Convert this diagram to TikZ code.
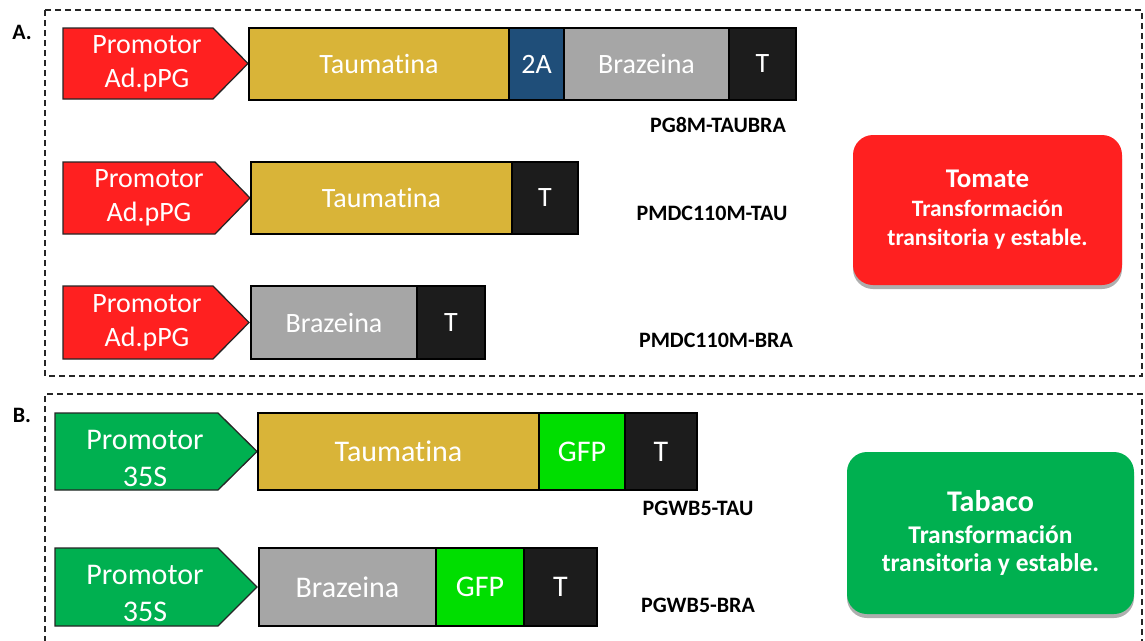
\documentclass[tikz,border=0pt]{standalone}
\usepackage{fontspec}
\setmainfont{Carlito}[Ligatures=NoCommon]
\usetikzlibrary{shadows}

\definecolor{promored}{RGB}{255,32,32}
\definecolor{promogreen}{RGB}{0,176,80}
\definecolor{taugold}{RGB}{217,180,56}
\definecolor{twoablue}{RGB}{31,78,121}
\definecolor{brazgray}{RGB}{166,166,166}
\definecolor{termblack}{RGB}{28,28,28}
\definecolor{gfpgreen}{RGB}{0,222,0}

% promoter arrow: fill, left x, top y, shoulder x, tip x, bottom y
\newcommand\promoshape[6]{%
  \draw[promo,fill=#1] (#2,#3) -- (#4,#3) -- (#5,{(#3+#6)/2}) -- (#4,#6) -- (#2,#6) -- cycle;}

\begin{document}
\begin{tikzpicture}[x=1pt,y=-1pt,
  frame/.style={draw=black!85, line width=1.2pt, dash pattern=on 6pt off 4pt},
  promo/.style={draw=black!85, line width=1.3pt, line join=miter},
  seg/.style={draw=black, line width=1.6pt, inner sep=0pt, text=white},
  fontA/.style={font=\fontsize{28}{34}\selectfont},
  fontB/.style={font=\fontsize{30}{37}\selectfont},
  promotext/.style={align=center, text=white, inner sep=0pt},
  plasmid/.style={font=\fontsize{22}{26}\selectfont\bfseries, inner sep=0pt},
  panel/.style={font=\fontsize{22}{24}\selectfont\bfseries, inner sep=0pt},
  hostbox/.style={rounded corners=20pt, text=white, align=center, inner sep=0pt,
    drop shadow={shadow xshift=0pt, shadow yshift=-4pt, opacity=0.45, fill=black!70}},
]
\useasboundingbox (0,0) rectangle (1145,640);
\fill[white] (0,0) rectangle (1145,640);

% panel frames
\draw[frame] (45,10) rectangle (1142,376);
\draw[frame] (45,642) -- (45,394) -- (1142,394) -- (1142,642);
\node[panel] (panA) at (22,32) {A.};
\node[panel] (panB) at (22,415) {B.};

% ---------- A: tomato constructs ----------
% PG8M-TAUBRA
\promoshape{promored}{63}{28}{213}{248}{99}
\node[promotext, fontA] (proA1) at (147,64) {Promotor\\Ad.pPG};
\node[seg, fontA, fill=taugold, minimum width=260pt, minimum height=72pt] (tauA1) at (379,64) {Taumatina};
\node[seg, fontA, fill=twoablue, minimum width=55pt, minimum height=72pt] (twoA1) at (536.5,64) {2A};
\node[seg, fontA, fill=brazgray, minimum width=165pt, minimum height=72pt] (braA1) at (646.5,64) {Brazeina};
\node[seg, fontA, fill=termblack, minimum width=67pt, minimum height=72pt] (terA1) at (762.5,64) {T};
\node[plasmid] (labA1) at (718,125) {PG8M-TAUBRA};

% PMDC110M-TAU
\promoshape{promored}{63}{162}{215}{250}{234}
\node[promotext, fontA] (proA2) at (149,198) {Promotor\\Ad.pPG};
\node[seg, fontA, fill=taugold, minimum width=261pt, minimum height=72pt] (tauA2) at (381.5,198) {Taumatina};
\node[seg, fontA, fill=termblack, minimum width=66pt, minimum height=72pt] (terA2) at (545,198) {T};
\node[plasmid] (labA2) at (712,213) {PMDC110M-TAU};

% PMDC110M-BRA
\promoshape{promored}{63}{286}{213}{249}{359}
\node[promotext, fontA] (proA3) at (147,322.5) {Promotor\\Ad.pPG};
\node[seg, fontA, fill=brazgray, minimum width=166pt, minimum height=73pt] (braA3) at (334,322.5) {Brazeina};
\node[seg, fontA, fill=termblack, minimum width=68pt, minimum height=73pt] (terA3) at (451,322.5) {T};
\node[plasmid] (labA3) at (716,340) {PMDC110M-BRA};

% host
\node[hostbox, fill=promored, minimum width=269pt, minimum height=150pt,
  font=\fontsize{23.5}{29}\selectfont\bfseries] (tomate) at (987.5,210)
  {{\fontsize{27}{29}\selectfont Tomate}\\Transformación\\transitoria y estable.};

% ---------- B: tobacco constructs ----------
% PGWB5-TAU
\promoshape{promogreen}{55}{413}{218}{257}{490}
\node[promotext, fontB] (proB1) at (145,458) {Promotor\\35S};
\node[seg, fontB, fill=taugold, minimum width=281pt, minimum height=77pt] (tauB1) at (398.5,451.5) {Taumatina};
\node[seg, fontB, fill=gfpgreen, minimum width=86pt, minimum height=77pt] (gfpB1) at (582,451.5) {GFP};
\node[seg, fontB, fill=termblack, minimum width=72pt, minimum height=77pt] (terB1) at (661,451.5) {T};
\node[plasmid] (labB1) at (698,508) {PGWB5-TAU};

% PGWB5-BRA
\promoshape{promogreen}{55}{548}{218}{257}{626}
\node[promotext, fontB] (proB2) at (145,593.5) {Promotor\\35S};
\node[seg, fontB, fill=brazgray, minimum width=177pt, minimum height=78pt] (braB2) at (347.5,587) {Brazeina};
\node[seg, fontB, fill=gfpgreen, minimum width=88pt, minimum height=78pt] (gfpB2) at (480,587) {GFP};
\node[seg, fontB, fill=termblack, minimum width=73pt, minimum height=78pt] (terB2) at (560.5,587) {T};
\node[plasmid] (labB2) at (698,605) {PGWB5-BRA};

% host
\node[hostbox, fill=promogreen, minimum width=287pt, minimum height=162pt,
  font=\fontsize{25.5}{28}\selectfont\bfseries] (tabaco) at (990.5,533)
  {{\fontsize{30}{30}\selectfont Tabaco}\\[4pt]Transformación\\transitoria y estable.};
\end{tikzpicture}
\end{document}
